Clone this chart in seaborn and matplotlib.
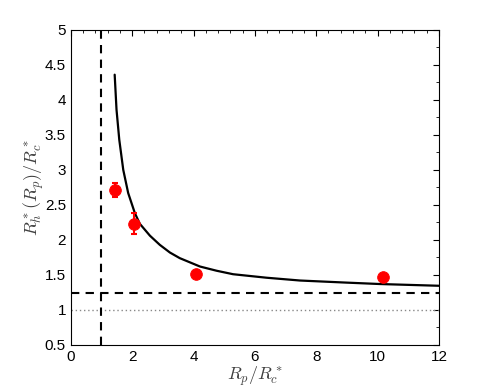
import matplotlib
matplotlib.use('Agg')
import matplotlib.pyplot as plt
import pandas as pd
import seaborn as sns
from matplotlib.ticker import MultipleLocator

# curve
curve_x = [1.43, 1.49, 1.58, 1.71, 1.87, 2.09, 2.25, 2.58, 2.90, 3.23, 3.55, 3.88,
           4.21, 4.75, 5.29, 6.38, 7.47, 8.99, 10.07, 12.0]
curve_y = [4.36, 3.86, 3.43, 3.00, 2.67, 2.38, 2.23, 2.06, 1.93, 1.82, 1.74, 1.68,
           1.62, 1.56, 1.51, 1.46, 1.42, 1.39, 1.37, 1.345]

# measured points
pts_x = [1.43, 2.05, 4.08, 10.18]
pts_y = [2.72, 2.23, 1.51, 1.47]
pts_err = [0.10, 0.15, 0.05, 0.04]

h_dash = 1.235
v_dash = 1.0
h_dot = 1.0

sns.set_style('white')
plt.rcParams['font.family'] = ['Liberation Sans', 'DejaVu Sans']
plt.rcParams['mathtext.fontset'] = 'cm'

df_curve = pd.DataFrame({'x': curve_x, 'y': curve_y})
df_pts = pd.DataFrame({'x': pts_x, 'y': pts_y, 'err': pts_err})

fig = plt.figure(figsize=(4.85, 3.88), dpi=100)
ax = fig.add_axes([0.146, 0.111, 0.759, 0.812])

ax.axhline(h_dot, color='#888888', lw=1, ls=(0, (1, 2)))
ax.axhline(h_dash, color='black', lw=1.5, ls=(0, (4, 3)))
ax.axvline(v_dash, color='black', lw=1.5, ls=(0, (4, 3)))

sns.lineplot(data=df_curve, x='x', y='y', color='black', lw=1.6, ax=ax)
ax.errorbar(df_pts['x'], df_pts['y'], yerr=df_pts['err'], fmt='none',
            ecolor='red', elinewidth=1.5, capsize=2.5, capthick=1.5)
sns.scatterplot(data=df_pts, x='x', y='y', color='red', s=70, edgecolor='red', ax=ax, zorder=5)

ax.set_xlim(0, 12)
ax.set_ylim(0.5, 5)
ax.set_xticks([0, 2, 4, 6, 8, 10, 12])
ax.set_yticks([0.5, 1, 1.5, 2, 2.5, 3, 3.5, 4, 4.5, 5])
ax.set_yticklabels(['0.5', '1', '1.5', '2', '2.5', '3', '3.5', '4', '4.5', '5'])
ax.xaxis.set_minor_locator(MultipleLocator(0.4))
ax.yaxis.set_minor_locator(MultipleLocator(0.25))
ax.tick_params(which='both', direction='in', top=True, right=True, labelsize=11, colors='black')
ax.tick_params(which='major', length=4)
ax.tick_params(which='minor', length=2)
for s in ax.spines.values():
    s.set_color('black')
    s.set_linewidth(0.8)

ax.set_xlabel(r'$R_p/R_c^*$', fontsize=13, color='#404040', labelpad=1)
ax.set_ylabel(r'$R_h^*(R_p)/R_c^*$', fontsize=13, color='#404040')
ax.yaxis.set_label_coords(-0.068, 0.5)

fig.savefig('out.png', dpi=100)
